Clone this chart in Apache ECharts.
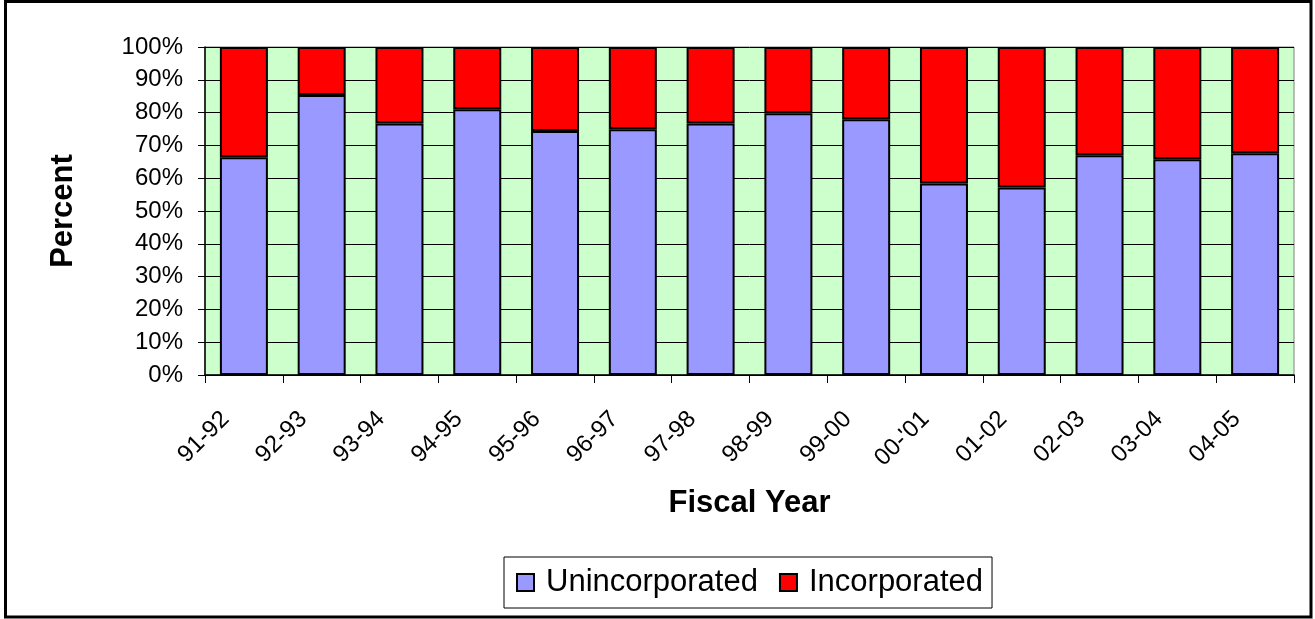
<!DOCTYPE html>
<html>
<head>
<meta charset="utf-8">
<style>
  html, body { margin: 0; padding: 0; background: #fff; }
  #chart { width: 1315px; height: 619px; }
</style>
<script src="https://cdn.jsdelivr.net/npm/echarts@6/dist/echarts.min.js"></script>
</head>
<body>
<div id="chart"></div>
<script>
// Fiscal years on the category axis
const fiscalYears = ['91-92', '92-93', '93-94', '94-95', '95-96', '96-97', '97-98',
                     '98-99', '99-00', "00-'01", '01-02', '02-03', '03-04', '04-05'];

// Share of each year, in percent
const unincorporated = [66.4, 85.4, 76.7, 81.0, 74.4, 74.9, 76.7, 79.8, 78.0, 58.4, 57.2, 67.0, 65.8, 67.6];
const incorporated   = [33.6, 14.6, 23.3, 19.0, 25.6, 25.1, 23.3, 20.2, 22.0, 41.6, 42.8, 33.0, 34.2, 32.4];

// Percent axis ticks
const percentTicks = { min: 0, max: 100, interval: 10 };

const FONT = "'Liberation Sans', Arial, sans-serif";

const chart = echarts.init(document.getElementById('chart'), null, { renderer: 'canvas' });

chart.setOption({
  backgroundColor: '#ffffff',
  animation: false,
  textStyle: { fontFamily: FONT, color: '#000' },
  graphic: [{
    type: 'rect',
    shape: { x: 5.5, y: 1.5, width: 1305.5, height: 615.5 },
    style: { fill: 'none', stroke: '#000', lineWidth: 3 },
    silent: true,
    z: 100
  }],
  grid: {
    left: 205, right: 21, top: 47, bottom: 244,
    show: true,
    backgroundColor: '#CCFFCC',
    borderColor: '#808080',
    borderWidth: 1
  },
  legend: {
    left: 504, top: 557,
    orient: 'horizontal',
    icon: 'rect',
    itemWidth: 17, itemHeight: 17, itemGap: 21,
    padding: [10, 9, 10, 12],
    borderColor: '#000', borderWidth: 1,
    backgroundColor: '#fff',
    textStyle: { fontFamily: FONT, fontSize: 31, color: '#000', padding: [0, 0, 0, 7] },
    data: ['Unincorporated', 'Incorporated']
  },
  xAxis: {
    type: 'category',
    data: fiscalYears,
    name: 'Fiscal Year',
    nameLocation: 'middle',
    nameGap: 113,
    nameTextStyle: { fontFamily: FONT, fontSize: 31, fontWeight: 'bold', color: '#000' },
    axisLine: { show: true, lineStyle: { color: '#000', width: 1.5 } },
    axisTick: { show: true, alignWithLabel: false, length: 8, lineStyle: { color: '#000', width: 1 } },
    axisLabel: {
      rotate: 45,
      margin: 22,
      padding: [0, 26, 0, 0],
      fontFamily: FONT, fontSize: 24, color: '#000',
      interval: 0
    },
    splitLine: { show: false }
  },
  yAxis: {
    type: 'value',
    min: percentTicks.min, max: percentTicks.max, interval: percentTicks.interval,
    name: 'Percent',
    nameLocation: 'middle',
    nameRotate: 90,
    nameGap: 126,
    nameTextStyle: { fontFamily: FONT, fontSize: 31, fontWeight: 'bold', color: '#000' },
    axisLine: { show: true, lineStyle: { color: '#000', width: 1.5 } },
    axisTick: { show: true, length: 7, lineStyle: { color: '#000', width: 1 } },
    axisLabel: {
      margin: 22,
      formatter: '{value}%',
      fontFamily: FONT, fontSize: 24, color: '#000'
    },
    splitLine: { show: true, lineStyle: { color: '#000', width: 1 } }
  },
  series: [
    {
      name: 'Unincorporated',
      type: 'bar',
      stack: 'share',
      barWidth: 48,
      data: unincorporated,
      itemStyle: { color: '#9999FF', borderColor: '#000', borderWidth: 2 }
    },
    {
      name: 'Incorporated',
      type: 'bar',
      stack: 'share',
      barWidth: 48,
      data: incorporated,
      itemStyle: { color: '#FF0000', borderColor: '#000', borderWidth: 2 }
    }
  ]
});
</script>
</body>
</html>
